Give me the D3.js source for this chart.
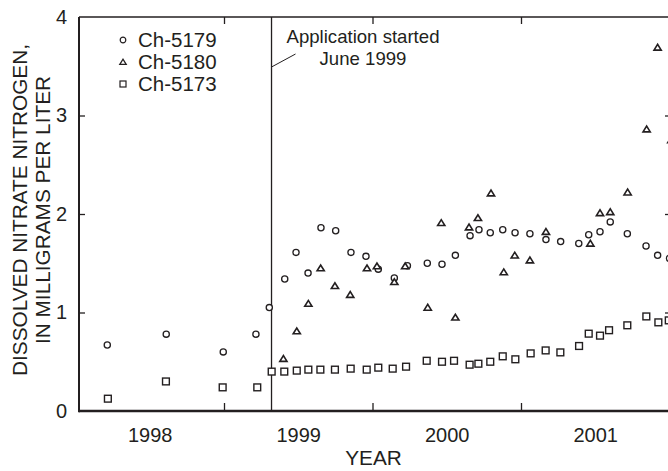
<!DOCTYPE html>
<html>

<head>
    <title>Dissolved nitrate nitrogen, Ch-5179 / Ch-5180 / Ch-5173</title>
    <style>
        body {
            margin: 0;
            background: #fff;
        }

        text {
            font-family: "Liberation Sans", Arial, sans-serif;
            fill: #231f20;
        }
    </style>
    <script src="https://d3js.org/d3.v7.min.js"></script>
</head>

<body>
    <script>
        // decimal years and mg/L
        let ch5179Years = [1998.214, 1998.611, 1998.995, 1999.215, 1999.305, 1999.409, 1999.485, 1999.566,
            1999.653, 1999.752, 1999.855, 1999.956, 2000.039, 2000.147, 2000.235, 2000.369, 2000.468,
            2000.558, 2000.657, 2000.717, 2000.793, 2000.877, 2000.960, 2001.060, 2001.168, 2001.267,
            2001.389, 2001.456, 2001.532, 2001.601, 2001.716, 2001.842, 2001.920, 2002.0];
        let ch5179Values = [0.67, 0.78, 0.60, 0.78, 1.05, 1.34, 1.61, 1.40,
            1.86, 1.83, 1.61, 1.57, 1.44, 1.35, 1.475, 1.50, 1.49,
            1.58, 1.78, 1.84, 1.81, 1.84, 1.81, 1.80, 1.74, 1.72,
            1.70, 1.79, 1.82, 1.92, 1.80, 1.675, 1.58, 1.55];

        let ch5180Years = [1999.400, 1999.490, 1999.568, 1999.651, 1999.747, 1999.850, 1999.963, 2000.030,
            2000.147, 2000.220, 2000.372, 2000.463, 2000.558, 2000.650, 2000.710, 2000.798, 2000.884,
            2000.958, 2001.060, 2001.168, 2001.467, 2001.532, 2001.601, 2001.718, 2001.846, 2001.920, 2002.012];
        let ch5180Values = [0.53, 0.81, 1.09, 1.45, 1.27, 1.18, 1.45, 1.47,
            1.31, 1.47, 1.05, 1.91, 0.95, 1.865, 1.96, 2.21, 1.41,
            1.58, 1.53, 1.82, 1.70, 2.01, 2.02, 2.22, 2.86, 3.69, 2.75];

        let ch5173Years = [1998.218, 1998.609, 1998.991, 1999.224, 1999.321, 1999.406, 1999.490, 1999.568,
            1999.649, 1999.747, 1999.853, 1999.961, 2000.039, 2000.136, 2000.226, 2000.365, 2000.468,
            2000.549, 2000.654, 2000.713, 2000.793, 2000.877, 2000.962, 2001.065, 2001.166, 2001.265,
            2001.391, 2001.456, 2001.532, 2001.593, 2001.716, 2001.844, 2001.925, 2001.995];
        let ch5173Values = [0.125, 0.30, 0.24, 0.24, 0.40, 0.40, 0.41, 0.42,
            0.42, 0.42, 0.43, 0.42, 0.44, 0.43, 0.45, 0.51, 0.50,
            0.51, 0.47, 0.48, 0.50, 0.555, 0.525, 0.585, 0.615, 0.595,
            0.66, 0.785, 0.765, 0.82, 0.87, 0.96, 0.90, 0.92];

        let seriesNames = ["Ch-5179", "Ch-5180", "Ch-5173"];
        let yTicks = [0, 1, 2, 3, 4];
        let yearTicks = [1999, 2000, 2001];
        let yearLabels = [1998, 1999, 2000, 2001];
        let applicationStart = 1999.32;
        let annotationLines = ["Application started", "June 1999"];

        let width = 668;
        let height = 471;
        let plotLeft = 79, plotRight = 671, plotTop = 17, plotBottom = 411;
        let ink = "#231f20";

        let x = d3.scaleLinear().domain([1998, 2002]).range([75.5, 669.5]);
        let y = d3.scaleLinear().domain([0, 4]).range([plotBottom, plotTop]);

        let svg = d3.select("body")
            .append("svg")
            .attr("width", width)
            .attr("height", height);

        // frame
        svg.append("line").attr("x1", plotLeft).attr("x2", plotRight).attr("y1", plotTop).attr("y2", plotTop)
            .attr("stroke", ink).attr("stroke-width", 1.5);
        svg.append("line").attr("x1", plotLeft).attr("x2", plotRight).attr("y1", plotBottom).attr("y2", plotBottom)
            .attr("stroke", ink).attr("stroke-width", 2.6);
        svg.append("line").attr("x1", plotLeft).attr("x2", plotLeft).attr("y1", plotTop).attr("y2", plotBottom + 1.3)
            .attr("stroke", ink).attr("stroke-width", 2);
        svg.append("line").attr("x1", plotRight).attr("x2", plotRight).attr("y1", plotTop).attr("y2", plotBottom)
            .attr("stroke", ink).attr("stroke-width", 2);

        function cleanAxis(g) {
            g.select(".domain").remove();
            g.selectAll("line").attr("stroke", ink).attr("stroke-width", 1.3);
            g.selectAll("text").attr("fill", ink).style("font-size", "20px")
                .style("font-family", '"Liberation Sans", Arial, sans-serif');
        }

        // inward tick marks
        svg.append("g").attr("transform", `translate(0,${plotBottom})`)
            .call(d3.axisBottom(x).tickValues(yearTicks).tickSize(-8).tickFormat(""))
            .call(cleanAxis);
        svg.append("g").attr("transform", `translate(0,${plotTop})`)
            .call(d3.axisTop(x).tickValues(yearTicks).tickSize(-7).tickFormat(""))
            .call(cleanAxis);
        svg.append("g").attr("transform", `translate(${plotLeft},0)`)
            .call(d3.axisLeft(y).tickValues([1, 2, 3]).tickSize(-6).tickFormat(""))
            .call(cleanAxis);
        svg.append("g").attr("transform", `translate(${plotRight},0)`)
            .call(d3.axisRight(y).tickValues([1, 2, 3]).tickSize(-6).tickFormat(""))
            .call(cleanAxis);

        // tick labels
        svg.append("g").attr("transform", `translate(0,${plotBottom})`)
            .call(d3.axisBottom(x).tickValues(yearLabels.map(function (d) { return d + 0.5; }))
                .tickSize(0).tickPadding(17).tickFormat(function (d) { return Math.floor(d); }))
            .call(cleanAxis);
        svg.append("g").attr("transform", `translate(${plotLeft},0)`)
            .call(d3.axisLeft(y).tickValues(yTicks).tickSize(0).tickPadding(12).tickFormat(d3.format("d")))
            .call(cleanAxis);

        // axis titles
        let ytitle = svg.append("text")
            .attr("transform", "translate(27,210) rotate(-90)")
            .attr("text-anchor", "middle")
            .style("font-size", "20.8px");
        ytitle.append("tspan").attr("x", 0).attr("y", 0).text("DISSOLVED NITRATE NITROGEN,");
        ytitle.append("tspan").attr("x", 0).attr("y", 23).text("IN MILLIGRAMS PER LITER");

        svg.append("text")
            .attr("x", 373.5)
            .attr("y", 465)
            .attr("text-anchor", "middle")
            .style("font-size", "20.8px")
            .text("YEAR");

        // application start
        svg.append("line")
            .attr("x1", x(applicationStart)).attr("x2", x(applicationStart))
            .attr("y1", plotTop).attr("y2", plotBottom)
            .attr("stroke", ink).attr("stroke-width", 1.3);
        svg.append("line")
            .attr("x1", x(applicationStart)).attr("y1", 67)
            .attr("x2", x(applicationStart) + 24).attr("y2", 54)
            .attr("stroke", ink).attr("stroke-width", 1);
        svg.selectAll(".note")
            .data(annotationLines)
            .enter()
            .append("text")
            .attr("class", "note")
            .attr("x", 363)
            .attr("y", function (d, i) { return 43 + i * 22; })
            .attr("text-anchor", "middle")
            .style("font-size", "18.6px")
            .text(function (d) { return d; });

        // markers
        let triPath = "M-3.6,2.6L3.6,2.6L0,-3.2Z";

        function pairs(xs, vs) {
            return xs.map(function (d, i) { return { t: d, v: vs[i] }; });
        }

        svg.selectAll(".sq")
            .data(pairs(ch5173Years, ch5173Values))
            .enter()
            .append("rect")
            .attr("class", "sq")
            .attr("x", function (d) { return x(d.t) - 3.4; })
            .attr("y", function (d) { return y(d.v) - 3.4; })
            .attr("width", 6.8)
            .attr("height", 6.8)
            .attr("fill", "#fff")
            .attr("stroke", ink)
            .attr("stroke-width", 1.4);

        svg.selectAll(".ci")
            .data(pairs(ch5179Years, ch5179Values))
            .enter()
            .append("circle")
            .attr("class", "ci")
            .attr("cx", function (d) { return x(d.t); })
            .attr("cy", function (d) { return y(d.v); })
            .attr("r", 3.1)
            .attr("fill", "#fff")
            .attr("stroke", ink)
            .attr("stroke-width", 1.3);

        svg.selectAll(".tri")
            .data(pairs(ch5180Years, ch5180Values))
            .enter()
            .append("path")
            .attr("class", "tri")
            .attr("d", triPath)
            .attr("transform", function (d) { return `translate(${x(d.t)},${y(d.v)})`; })
            .attr("fill", "#fff")
            .attr("stroke", ink)
            .attr("stroke-width", 1.6)
            .attr("stroke-linejoin", "miter");

        // legend
        let legend = svg.selectAll(".legend")
            .data(seriesNames)
            .enter()
            .append("g")
            .attr("class", "legend")
            .attr("transform", function (d, i) { return `translate(123,${40 + i * 22})`; });

        legend.each(function (d, i) {
            let g = d3.select(this);
            if (i === 0) {
                g.append("circle").attr("r", 2.8).attr("fill", "#fff").attr("stroke", ink).attr("stroke-width", 1.2);
            } else if (i === 1) {
                g.append("path").attr("d", "M-3.2,2.4L3.2,2.4L0,-2.8Z").attr("fill", "#fff")
                    .attr("stroke", ink).attr("stroke-width", 1.3);
            } else {
                g.append("rect").attr("x", -3).attr("y", -3).attr("width", 6).attr("height", 6)
                    .attr("fill", "#fff").attr("stroke", ink).attr("stroke-width", 1.2);
            }
        });

        legend.append("text")
            .attr("x", 15)
            .attr("y", 7)
            .style("font-size", "20.5px")
            .text(function (d) { return d; });
    </script>
</body>

</html>
